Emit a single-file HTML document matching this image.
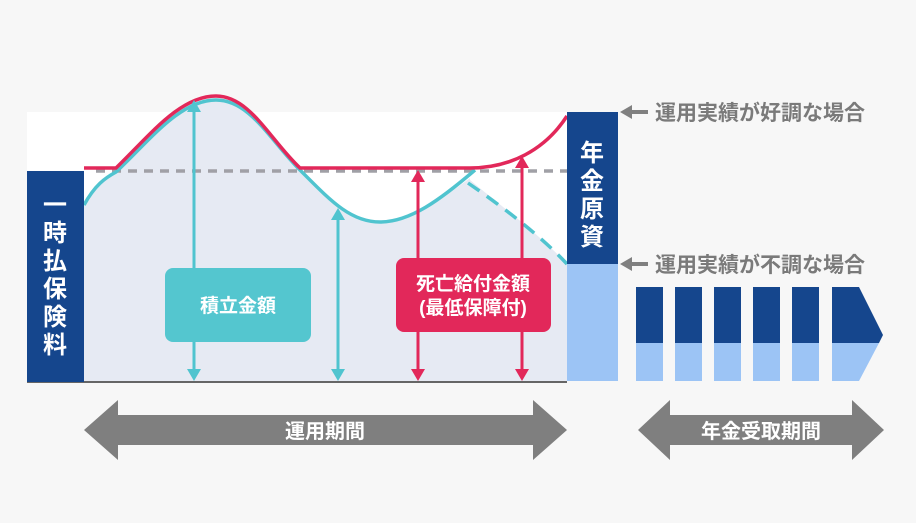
<!DOCTYPE html>
<html><head><meta charset="utf-8"><style>
body{margin:0;background:#f7f7f7;}
svg text{font-family:"Liberation Sans","Noto Sans CJK JP",sans-serif;font-weight:bold;}
</style></head><body>
<svg width="916" height="518" viewBox="0 0 916 518" xmlns="http://www.w3.org/2000/svg">
<rect width="916" height="518" fill="#f7f7f7"/>
<rect x="27" y="112" width="540" height="269" fill="#fff"/>
<path d="M84,205 C95,185 105,178 116,172 C150,140 180,100 216,100 C250,100 270,140 300,170 C330,200 350,222 380,222 C410,222 440,200 470,178 L470,180 C500,205 540,235 567,264 L567,381 L84,381 Z" fill="#e6eaf3"/>
<line x1="96" y1="171" x2="567" y2="171" stroke="#a0a0a6" stroke-width="3.5" stroke-dasharray="9,7"/>
<path d="M84,205 C95,185 105,178 116,172 C150,140 180,100 216,100 C250,100 270,140 300,170 C330,200 350,222 380,222 C410,222 440,200 475,170" fill="none" stroke="#50c4cf" stroke-width="3.5"/>
<path d="M468,183 C500,205 540,235 567,264" fill="none" stroke="#50c4cf" stroke-width="3.5" stroke-dasharray="14,9"/>
<path d="M84,168 L116,168 C150,135 180,96 216,96 C250,96 270,140 300,168 L470,168 C510,168 545,150 567,116" fill="none" stroke="#e2285a" stroke-width="3.5"/>
<rect x="27" y="381" width="540" height="2" fill="#666"/>
<g stroke="#50c4cf" stroke-width="3">
<line x1="194" y1="108" x2="194" y2="372"/><line x1="338" y1="216" x2="338" y2="372"/>
</g>
<g fill="#50c4cf">
<path d="M194,100 l-7,12 h14z"/><path d="M194,381 l-7,-12 h14z"/>
<path d="M338,208 l-7,12 h14z"/><path d="M338,381 l-7,-12 h14z"/>
</g>
<rect x="165" y="268" width="146" height="74" rx="8" fill="#54c6cf"/>
<text x="238" y="312" fill="#fff" font-size="19" text-anchor="middle">積立金額</text>
<g stroke="#e2285a" stroke-width="3">
<line x1="418" y1="178" x2="418" y2="372"/><line x1="522" y1="164" x2="522" y2="372"/>
</g>
<g fill="#e2285a">
<path d="M418,170 l-7,12 h14z"/><path d="M418,381 l-7,-12 h14z"/>
<path d="M522,156 l-7,12 h14z"/><path d="M522,381 l-7,-12 h14z"/>
</g>
<rect x="396" y="258" width="155" height="74" rx="8" fill="#e2285a"/>
<text x="473" y="290" fill="#fff" font-size="19" text-anchor="middle">死亡給付金額</text>
<text x="473" y="314" fill="#fff" font-size="19" text-anchor="middle">(最低保障付)</text>
<rect x="27" y="171" width="57" height="211" fill="#15468d"/>
<g fill="#fff" font-size="24" text-anchor="middle">
<text x="55" y="213">一</text><text x="55" y="241">時</text><text x="55" y="269">払</text><text x="55" y="297">保</text><text x="55" y="325">険</text><text x="55" y="353">料</text>
</g>
<rect x="567" y="112" width="51" height="152" fill="#15468d"/>
<rect x="567" y="264" width="51" height="117" fill="#9cc4f5"/>
<g fill="#fff" font-size="24" text-anchor="middle">
<text x="592" y="161">年</text><text x="592" y="189">金</text><text x="592" y="217">原</text><text x="592" y="245">資</text>
</g>
<g fill="#808080">
<rect x="630" y="110" width="18" height="4"/><path d="M620,112 l12,-7 v14z"/>
<rect x="630" y="262" width="18" height="4"/><path d="M620,264 l12,-7 v14z"/>
</g>
<text x="655" y="120" fill="#7a7a7a" font-size="21">運用実績が好調な場合</text>
<text x="655" y="272" fill="#7a7a7a" font-size="21">運用実績が不調な場合</text>
<g fill="#15468d">
<rect x="636" y="287" width="27" height="56"/><rect x="675" y="287" width="27" height="56"/><rect x="714" y="287" width="27" height="56"/><rect x="753" y="287" width="27" height="56"/><rect x="792" y="287" width="27" height="56"/>
<path d="M832,287 H859 L883,335 L879,343 H832Z"/>
</g>
<g fill="#9cc4f5">
<rect x="636" y="343" width="27" height="38"/><rect x="675" y="343" width="27" height="38"/><rect x="714" y="343" width="27" height="38"/><rect x="753" y="343" width="27" height="38"/><rect x="792" y="343" width="27" height="38"/>
<path d="M832,343 H879 L859,381 H832Z"/>
</g>
<path d="M84,430 L118,400 V415 H533 V400 L567,430 L533,460 V445 H118 V460Z" fill="#7f7f7f"/>
<text x="325" y="438" fill="#fff" font-size="20" text-anchor="middle">運用期間</text>
<path d="M638,430 L670,400 V415 H852 V400 L884,430 L852,460 V445 H670 V460Z" fill="#7f7f7f"/>
<text x="761" y="438" fill="#fff" font-size="20" text-anchor="middle">年金受取期間</text>
</svg>
</body></html>
